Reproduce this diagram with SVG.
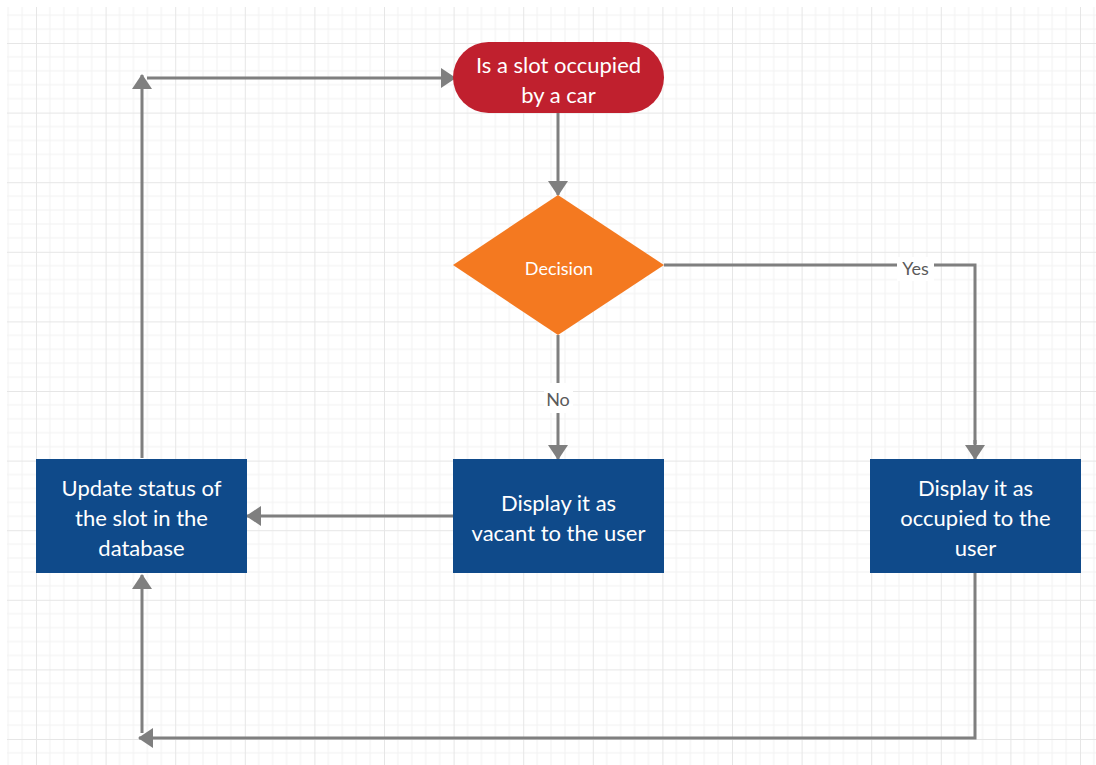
<svg xmlns="http://www.w3.org/2000/svg" width="1096" height="765" viewBox="0 0 1096 765">
  <defs>
    <pattern id="grid" patternUnits="userSpaceOnUse" x="36" y="43" width="69.6" height="69.6">
      <g stroke="#f1f1f1" stroke-width="1">
        <line x1="13.92" y1="0" x2="13.92" y2="69.6"/>
        <line x1="27.84" y1="0" x2="27.84" y2="69.6"/>
        <line x1="41.76" y1="0" x2="41.76" y2="69.6"/>
        <line x1="55.68" y1="0" x2="55.68" y2="69.6"/>
        <line x1="0" y1="13.92" x2="69.6" y2="13.92"/>
        <line x1="0" y1="27.84" x2="69.6" y2="27.84"/>
        <line x1="0" y1="41.76" x2="69.6" y2="41.76"/>
        <line x1="0" y1="55.68" x2="69.6" y2="55.68"/>
      </g>
      <g stroke="#e6e6e6" stroke-width="2">
        <line x1="0" y1="0" x2="0" y2="69.6"/>
        <line x1="0" y1="0" x2="69.6" y2="0"/>
      </g>
    </pattern>
    <marker id="arrow" viewBox="0 0 15 20" refX="14" refY="10" markerWidth="15" markerHeight="20" markerUnits="userSpaceOnUse" orient="auto">
      <path d="M0,0 L15,10 L0,20 z" fill="#7f7f7f"/>
    </marker>
  </defs>
  <style>
    .conn { fill: none; stroke: #7f7f7f; stroke-width: 3; marker-end: url(#arrow); }
    .conn-plain { fill: none; stroke: #7f7f7f; stroke-width: 3; }
    .node-text { font-family: Lato, "Liberation Sans", sans-serif; font-size: 22px; fill: #ffffff; text-anchor: middle; }
    .lbl { font-family: Lato, "Liberation Sans", sans-serif; font-size: 18px; fill: #5a5a5a; text-anchor: middle; }
    .proc { fill: #0f4a8a; }
  </style>
  <rect x="0" y="0" width="1096" height="765" fill="#ffffff"/>
  <rect x="7" y="7" width="1089" height="758" fill="url(#grid)"/>

  <g id="connectors">
    <path class="conn" d="M558,113 V195"/>
    <path class="conn-plain" d="M664,265 H975 V444"/>
    <path class="conn" d="M975,440 V459"/>
    <rect x="897" y="257" width="37" height="24" fill="#ffffff"/>
    <text class="lbl" x="915.5" y="275">Yes</text>
    <path class="conn" d="M558,335 V459"/>
    <rect x="544" y="383" width="29" height="30" fill="#ffffff"/>
    <text class="lbl" x="558" y="406">No</text>
    <path class="conn" d="M453,516 H247"/>
    <path class="conn" d="M142,458 V75"/>
    <path class="conn" d="M147,78 H455"/>
    <path class="conn" d="M975,573 V738 H139"/>
    <path class="conn" d="M142,733 V575"/>
  </g>

  <g id="start">
    <rect x="453" y="42" width="211" height="71" rx="35.5" ry="35.5" fill="#c0202e"/>
    <text class="node-text" x="558.5" y="73">Is a slot occupied</text>
    <text class="node-text" x="558.5" y="103">by a car</text>
  </g>

  <g id="decision">
    <polygon points="558,195 664,265 558,335 453,265" fill="#f47920"/>
    <text class="node-text" x="559" y="275" style="font-size:18px">Decision</text>
  </g>

  <g id="vacant">
    <rect class="proc" x="453" y="459" width="211" height="114"/>
    <text class="node-text" x="558.5" y="511">Display it as</text>
    <text class="node-text" x="558.5" y="541">vacant to the user</text>
  </g>

  <g id="occupied">
    <rect class="proc" x="870" y="459" width="211" height="114"/>
    <text class="node-text" x="975.5" y="496">Display it as</text>
    <text class="node-text" x="975.5" y="526">occupied to the</text>
    <text class="node-text" x="975.5" y="556">user</text>
  </g>

  <g id="update">
    <rect class="proc" x="36" y="459" width="211" height="114"/>
    <text class="node-text" x="141.5" y="496">Update status of</text>
    <text class="node-text" x="141.5" y="526">the slot in the</text>
    <text class="node-text" x="141.5" y="556">database</text>
  </g>
</svg>
